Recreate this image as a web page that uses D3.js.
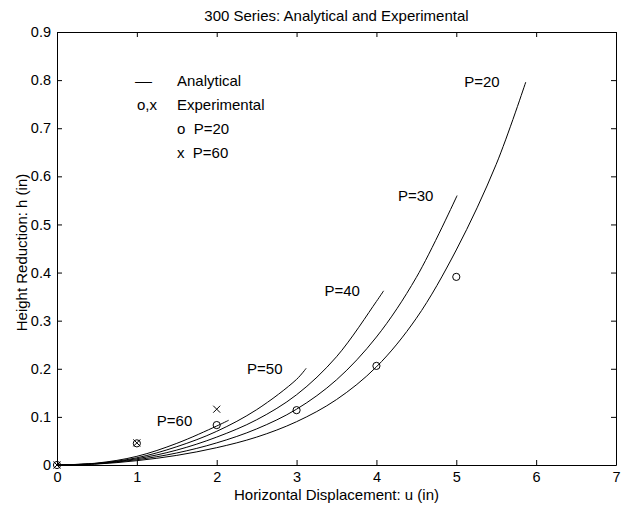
<!DOCTYPE html>
<html>
<head>
<meta charset="utf-8">
<script src="https://cdn.jsdelivr.net/npm/d3@7"></script>
<style>
  html, body { margin: 0; padding: 0; background: #fff; }
  svg text { font-family: "Liberation Sans", Arial, Helvetica, sans-serif; fill: #000; }
</style>
</head>
<body>
<svg id="chart" width="628" height="506"></svg>
<script>
// Analytical curves: horizontal displacement u (in) vs height reduction h (in)
const loads = ["P=20", "P=30", "P=40", "P=50", "P=60"];
const u20 = [0, 0.5, 1, 1.5, 2, 2.5, 3, 3.5, 4, 4.5, 5, 5.5, 5.87];
const h20 = [0, 0.002, 0.009, 0.02, 0.036, 0.058, 0.09, 0.136, 0.204, 0.305, 0.447, 0.625, 0.796];
const u30 = [0, 0.5, 1, 1.5, 2, 2.5, 3, 3.5, 4, 4.5, 5.01];
const h30 = [0, 0.0025, 0.011, 0.025, 0.046, 0.075, 0.116, 0.177, 0.266, 0.39, 0.56];
const u40 = [0, 0.5, 1, 1.5, 2, 2.5, 3, 3.5, 4, 4.09];
const h40 = [0, 0.003, 0.013, 0.031, 0.058, 0.094, 0.146, 0.225, 0.34, 0.362];
const u50 = [0, 0.5, 1, 1.5, 2, 2.5, 3, 3.12];
const h50 = [0, 0.0035, 0.015, 0.038, 0.07, 0.115, 0.178, 0.201];
const u60 = [0, 0.5, 1, 1.5, 2, 2.15];
const h60 = [0, 0.004, 0.018, 0.045, 0.081, 0.093];

// Label anchor per curve (u, h of the text's lower-left corner)
const labelU = [5.1, 4.27, 3.35, 2.38, 1.25];
const labelH = [0.786, 0.549, 0.352, 0.189, 0.081];

// Experimental points
const expU20 = [0, 1, 2, 3, 4, 5];
const expH20 = [0, 0.045, 0.083, 0.114, 0.206, 0.391];
const expU60 = [0, 1, 2];
const expH60 = [0, 0.046, 0.116];

// Axis ticks
const xTicks = [0, 1, 2, 3, 4, 5, 6, 7];
const yTicks = [0, 0.1, 0.2, 0.3, 0.4, 0.5, 0.6, 0.7, 0.8, 0.9];

const title = "300 Series: Analytical and Experimental";
const xLabel = "Horizontal Displacement: u (in)";
const yLabel = "Height Reduction: h (in)";

const margin = { left: 57, top: 32, right: 12, bottom: 41 };
const W = 628, H = 506;
const iw = W - margin.left - margin.right;
const ih = H - margin.top - margin.bottom;

const svg = d3.select("#chart");
const g = svg.append("g").attr("transform", `translate(${margin.left},${margin.top})`);

const x = d3.scaleLinear().domain([0, 7]).range([0, iw]);
const y = d3.scaleLinear().domain([0, 0.9]).range([ih, 0]);

const fsTick = 14.5;
const fs = 15;

// Axes box with inward ticks on all sides
const tickLen = 5;
g.append("g").attr("transform", `translate(0,${ih})`)
  .call(d3.axisBottom(x).tickValues(xTicks).tickFormat(d3.format("d")).tickSizeInner(-tickLen).tickSizeOuter(0).tickPadding(6.5))
  .call(a => a.selectAll("text").attr("font-size", fsTick).attr("dy", "0.71em"));
g.append("g")
  .call(d3.axisTop(x).tickValues(xTicks).tickFormat("").tickSizeInner(-tickLen).tickSizeOuter(0));
g.append("g")
  .call(d3.axisLeft(y).tickValues(yTicks).tickFormat(d => d === 0 ? "0" : d3.format(".1f")(d)).tickSizeInner(-tickLen).tickSizeOuter(0).tickPadding(6))
  .call(a => a.selectAll("text").attr("font-size", fsTick));
g.append("g").attr("transform", `translate(${iw},0)`)
  .call(d3.axisRight(y).tickValues(yTicks).tickFormat("").tickSizeInner(-tickLen).tickSizeOuter(0));

g.selectAll(".domain").attr("stroke", "#000").attr("stroke-width", 1);
g.selectAll(".tick line").attr("stroke", "#000");
g.selectAll(".tick text").attr("fill", "#000").attr("font-family", "Liberation Sans, Arial, sans-serif");

// Analytical curves
const curves = [
  { u: u20, h: h20 }, { u: u30, h: h30 }, { u: u40, h: h40 }, { u: u50, h: h50 }, { u: u60, h: h60 }
];
const line = d3.line().x(d => x(d[0])).y(d => y(d[1])).curve(d3.curveCatmullRom.alpha(0.5));
curves.forEach((c, i) => {
  const pts = c.u.map((v, j) => [v, c.h[j]]);
  g.append("path").attr("d", line(pts)).attr("fill", "none").attr("stroke", "#000").attr("stroke-width", 1);
  g.append("text").attr("x", x(labelU[i])).attr("y", y(labelH[i])).attr("font-size", fs).text(loads[i]);
});

// Experimental markers
g.selectAll("circle.p20").data(expU20.map((v, j) => [v, expH20[j]])).enter()
  .append("circle").attr("cx", d => x(d[0])).attr("cy", d => y(d[1])).attr("r", 3.6)
  .attr("fill", "none").attr("stroke", "#000").attr("stroke-width", 1);
const xs = 3.5;
g.selectAll("path.p60").data(expU60.map((v, j) => [v, expH60[j]])).enter()
  .append("path")
  .attr("d", d => {
    const cx = x(d[0]), cy = y(d[1]);
    return `M${cx - xs},${cy - xs}L${cx + xs},${cy + xs}M${cx - xs},${cy + xs}L${cx + xs},${cy - xs}`;
  })
  .attr("stroke", "#000").attr("stroke-width", 1).attr("fill", "none");

// Legend text block
const legend = g.append("g").attr("font-size", fs);
legend.append("text").attr("x", 135 - margin.left).attr("y", 86 - margin.top)
  .attr("textLength", 17).attr("lengthAdjust", "spacingAndGlyphs").text("\u2014");
legend.append("text").attr("x", 177 - margin.left).attr("y", 86 - margin.top).text("Analytical");
legend.append("text").attr("x", 137 - margin.left).attr("y", 110 - margin.top).text("o,x");
legend.append("text").attr("x", 177 - margin.left).attr("y", 110 - margin.top).text("Experimental");
legend.append("text").attr("x", 177 - margin.left).attr("y", 134 - margin.top).text("o  P=20");
legend.append("text").attr("x", 177 - margin.left).attr("y", 158 - margin.top).text("x  P=60");
legend.selectAll("text").attr("xml:space", "preserve");

// Title and axis labels
svg.append("text").attr("x", margin.left + iw / 2).attr("y", 21).attr("text-anchor", "middle")
  .attr("font-size", fs).text(title);
svg.append("text").attr("x", margin.left + iw / 2).attr("y", 500).attr("text-anchor", "middle")
  .attr("font-size", fs).text(xLabel);
svg.append("text").attr("transform", `translate(27,${margin.top + ih / 2 + 4}) rotate(-90)`)
  .attr("text-anchor", "middle").attr("font-size", fs).text(yLabel);
</script>
</body>
</html>
